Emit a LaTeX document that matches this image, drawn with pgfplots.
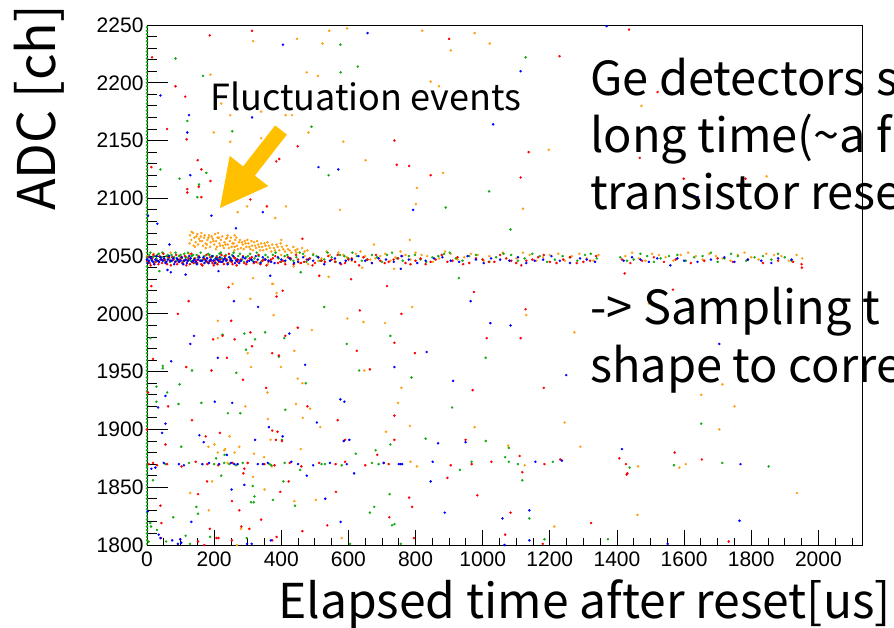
\documentclass[border=0pt]{standalone}
\usepackage{fontspec}
\usepackage{pgfplots}
\pgfplotsset{compat=1.18}
\setmainfont{Noto Sans CJK JP}
\newfontfamily\tickfont{Liberation Sans}
\definecolor{rred}{RGB}{255,0,0}
\definecolor{rblue}{RGB}{0,0,255}
\definecolor{rgreen}{RGB}{20,170,20}
\definecolor{rorange}{RGB}{255,160,20}
\definecolor{arrowgold}{RGB}{255,192,0}
\begin{document}
\begin{tikzpicture}[x=1pt,y=1pt]
\useasboundingbox (0,0) rectangle (894,628);
\clip (0,0) rectangle (894,628);
\begin{axis}[
 at={(147pt,83pt)}, anchor=south west,
 scale only axis, width=715pt, height=520pt,
 xmin=0, xmax=2130, ymin=1800, ymax=2250,
 clip=false,
 axis line style={line width=0.8pt},
 tick align=inside,
 xtick pos=bottom, ytick pos=left,
 xtick={0,200,...,2000},
 minor xtick={50,100,...,2100},
 ytick={1800,1850,...,2250},
 minor ytick={1800,1810,...,2250},
 xtick style={/pgfplots/major tick length=15pt,/pgfplots/minor tick length=7pt, line width=0.8pt, black},
 ytick style={/pgfplots/major tick length=21pt,/pgfplots/minor tick length=10pt, line width=0.8pt, black},
 tick label style={font=\tickfont\fontsize{21}{21}\selectfont},
 /pgf/number format/assume math mode=true,
 /pgf/number format/set thousands separator={},
 xticklabel style={yshift=-3pt},
 xlabel={Elapsed time after reset[us]},
 xlabel style={font=\fontsize{48}{48}\selectfont, at={(axis description cs:1.0406,-0.1404)}, anchor=base east, inner sep=0pt},
 ylabel={ADC [ch]},
 ylabel style={font=\fontsize{52}{52}\selectfont, at={(axis description cs:-0.1273,0.8404)}, anchor=base, inner sep=0pt},
 every axis plot/.append style={only marks, mark=*, mark size=1.05pt},
]
% green column at t=0
\addplot[color=rgreen] coordinates {
(0,1801)(0,1804)(0,1807)(0,1810)(0,1813)(0,1816)(0,1819)(0,1822)(0,1825)(0,1828)
(0,1831)(0,1834)(0,1837)(0,1840)(0,1843)(0,1846)(0,1849)(0,1852)(0,1855)(0,1858)
(0,1861)(0,1864)(0,1867)(0,1870)(0,1873)(0,1876)(0,1879)(0,1882)(0,1885)(0,1888)
(0,1891)(0,1894)(0,1897)(0,1900)(0,1903)(0,1906)(0,1909)(0,1912)(0,1915)(0,1918)
(0,1921)(0,1924)(0,1927)(0,1930)(0,1933)(0,1936)(0,1939)(0,1942)(0,1945)(0,1948)
(0,1951)(0,1954)(0,1957)(0,1960)(0,1963)(0,1966)(0,1969)(0,1972)(0,1975)(0,1978)
(0,1981)(0,1984)(0,1987)(0,1990)(0,1993)(0,1996)(0,1999)(0,2002)(0,2005)(0,2008)
(0,2011)(0,2014)(0,2017)(0,2020)(0,2023)(0,2026)(0,2029)(0,2032)(0,2035)(0,2038)
(0,2041)(0,2044)(0,2047)(0,2050)(0,2053)(0,2056)(0,2059)(0,2062)(0,2065)(0,2068)
(0,2071)(0,2074)(0,2077)(0,2080)(0,2083)(0,2086)(0,2089)(0,2092)(0,2095)(0,2098)
(0,2101)(0,2104)(0,2107)(0,2110)(0,2113)(0,2116)(0,2119)(0,2122)(0,2125)(0,2128)
(0,2131)(0,2134)(0,2137)(0,2140)(0,2143)(0,2146)(0,2149)(0,2152)(0,2155)(0,2158)
(0,2161)(0,2164)(0,2167)(0,2170)(0,2173)(0,2176)(0,2179)(0,2182)(0,2185)(0,2188)
(0,2191)(0,2194)(0,2197)(0,2200)(0,2203)(0,2206)(0,2209)(0,2212)(0,2215)(0,2218)
(0,2221)(0,2224)(0,2227)(0,2230)(0,2233)(0,2236)(0,2239)(0,2242)(0,2245)(0,2248)
};
% orange
\addplot[color=rorange] coordinates {
(0,2050)(20,2052)(45,2049)(70,2053)(95,2050)(125,2052)(400,2051)(420,2049)(445,2053)(470,2050)
(495,2052)(520,2048)(545,2051)(570,2053)(595,2049)(622,2052)(650,2050)(680,2048)(710,2052)(740,2049)
(770,2051)(800,2053)(835,2050)(870,2048)(905,2052)(945,2049)(985,2051)(1020,2050)(1060,2053)(1100,2048)
(1140,2051)(1180,2049)(1225,2052)(1265,2050)(1310,2048)(1345,2051)(1425,2050)(1465,2048)(1505,2052)(1545,2049)
(1590,2051)(1635,2050)(1675,2052)(1715,2048)(1760,2051)(1800,2049)(1845,2052)(1890,2050)(1935,2051)(1952,2048)
(510,2046)(535,2054)(560,2047)(585,2051)(610,2046)(636,2054)(665,2047)(695,2050)(725,2046)(755,2054)
(785,2047)(818,2051)(852,2045)(888,2054)(925,2047)(965,2052)(1003,2046)(1040,2049)(1080,2046)(1120,2053)
(1160,2046)(1200,2051)(1245,2046)(1288,2052)(1330,2046)(1445,2053)(1485,2046)(1525,2051)(1568,2046)(1612,2053)
(1655,2047)(1695,2050)(1738,2046)(1780,2053)(1822,2047)(1868,2051)(1912,2046)
(128,2068)(132,2064)(137,2070)(141,2066)(145,2062)(150,2069)(155,2065)(160,2067)(164,2063)(170,2066)
(175,2061)(180,2064)(185,2068)(190,2062)(196,2065)(200,2060)(206,2063)(210,2066)(216,2061)(220,2064)
(226,2059)(231,2062)(236,2065)(241,2060)(247,2063)(252,2058)(258,2061)(263,2064)(268,2059)(274,2062)
(280,2057)(285,2060)(291,2063)(296,2058)(302,2061)(308,2056)(313,2059)(319,2062)(325,2057)(331,2060)
(337,2055)(343,2058)(350,2061)(356,2056)(363,2059)(370,2054)(378,2057)(386,2060)(394,2055)(402,2058)
(411,2054)(420,2056)(430,2053)(442,2055)(455,2053)(470,2054)(143,2058)(175,2057)(205,2056)(260,2055)
(240,2068)(212,2070)(330,2044)(360,2043)(410,2045)(455,2044)(480,2043)
(127,2061)(133,2071)(139,2059)(147,2067)(152,2060)(158,2063)(162,2070)(167,2059)(172,2068)(178,2060)
(183,2066)(188,2058)(193,2067)(198,2063)(203,2069)(208,2058)(214,2066)(218,2059)(224,2067)(229,2057)
(234,2060)(239,2066)(244,2057)(250,2066)(255,2061)(261,2058)(266,2066)(271,2056)(277,2064)(283,2062)
(288,2056)(294,2061)(299,2064)(305,2058)(311,2063)(316,2055)(322,2059)(328,2063)(334,2058)(340,2061)
(346,2055)(353,2059)(359,2062)(366,2057)(373,2060)(381,2055)(389,2058)(398,2061)(406,2056)(416,2059)
(425,2055)(436,2058)(448,2056)(462,2057)(478,2055)
(316,2236)(447,2238)(523,2234)(543,2245)(596,2247)(189,2207)(476,2209)(509,2206)(221,2182)(248,2172)
(340,2175)(413,2172)(432,2172)(199,2157)(248,2149)(340,2152)(481,2157)(585,2149)(651,2133)(298,2093)
(414,2093)(575,2090)(270,2088)(382,2083)(261,2068)(400,2064)(676,2060)(541,2032)(255,2026)(375,2026)
(641,2040)(437,2041)(316,2031)(373,2026)
(820,2245)(976,2243)(905,2228)(1021,2234)(845,2201)(870,2197)(1197,2142)(882,2122)(804,2109)(801,2095)
(1120,2091)(783,2064)(736,2039)(1473,2180)(1846,2119)
(386,2018)(308,2013)(377,1999)(211,1994)(597,1996)(645,1993)(709,1992)(491,1986)(211,1979)(300,1966)
(439,1968)(310,1954)(399,1954)(647,1951)(449,1944)(463,1940)(359,1932)(293,1920)(444,1922)(486,1918)
(360,1909)(464,1910)(516,1902)(712,1898)(246,1894)(201,1887)(368,1891)(183,1885)(275,1885)(458,1883)
(211,1880)(230,1882)(233,1883)(261,1880)(319,1879)(349,1876)(240,1871)(300,1871)(372,1868)(316,1859)
(194,1855)(350,1848)(129,1845)(439,1838)(503,1839)(184,1830)(280,1814)(580,1806)(268,1800)
(790,2006)(1130,1999)(1273,1984)(758,1936)(748,1923)(1244,1906)(783,1903)(976,1902)(1076,1886)(1291,1885)
(785,1872)(804,1868)(1125,1869)(1213,1816)
(1495,2009)(1714,1939)(1651,1930)(1750,1920)(1705,1900)(1463,1868)(1586,1867)(1605,1870)(1936,1845)(1461,1826)
};
% green
\addplot[color=rgreen] coordinates {
(0,2049)(7,2051)(14,2047)(21,2050)(28,2048)(35,2052)(43,2049)(50,2047)(58,2050)(66,2048)
(73,2051)(81,2049)(88,2046)(96,2050)(103,2048)(111,2052)(118,2049)(126,2047)(133,2050)(141,2048)
(148,2051)(156,2049)(163,2046)(171,2050)(178,2048)(186,2051)(193,2049)(201,2047)(208,2050)(216,2052)
(223,2048)(231,2050)(238,2047)(246,2049)(254,2051)(262,2048)(272,2050)(283,2047)(295,2049)(307,2052)
(320,2048)(333,2050)(347,2047)(360,2049)(375,2051)(392,2048)(410,2050)(428,2047)(445,2049)(465,2052)
(485,2048)(505,2050)(528,2047)(550,2049)(575,2051)(600,2048)(625,2050)(655,2047)(685,2049)(715,2051)
(745,2048)(780,2050)(815,2047)(850,2049)(885,2052)(920,2048)(960,2050)(1000,2047)(1040,2049)(1085,2051)
(1125,2048)(1170,2050)(1215,2047)(1260,2049)(1305,2051)(1340,2048)(1410,2049)(1450,2047)(1490,2050)(1530,2048)
(1580,2051)(1630,2049)(1680,2053)(1720,2048)(1760,2050)(1810,2049)(1860,2047)(1900,2049)
(3,2046)(10,2053)(17,2049)(24,2045)(31,2051)(39,2047)(46,2053)(54,2046)(62,2051)(69,2045)
(77,2049)(85,2053)(92,2047)(100,2051)(107,2045)(115,2049)(122,2053)(130,2046)(137,2051)(145,2044)
(152,2049)(160,2053)(167,2047)(175,2045)(182,2052)(190,2046)(197,2050)(205,2044)(212,2048)(220,2053)
(227,2046)(235,2051)(242,2044)(250,2048)(258,2053)(267,2046)(277,2052)(289,2045)(301,2050)(314,2046)
(327,2053)(340,2045)(353,2051)(367,2046)(383,2053)(400,2045)(418,2051)(436,2046)(455,2053)(475,2045)
(495,2051)(516,2046)(538,2053)(562,2045)(588,2050)(612,2053)(640,2046)(670,2051)(700,2045)(730,2053)
(762,2046)(798,2051)(832,2045)(868,2050)(902,2053)(940,2046)(980,2051)(1020,2045)(1062,2052)(1105,2046)
(1148,2052)(1192,2045)(1238,2050)(1282,2046)(1322,2052)(1430,2046)(1470,2052)(1510,2045)(1555,2050)(1605,2046)
(1655,2050)(1700,2045)(1740,2052)(1785,2046)(1835,2050)(1880,2052)(1920,2046)
(576,2233)(85,2221)(167,2206)(577,2209)(628,2214)(120,2167)(254,2158)(490,2162)(40,2125)(177,2122)
(541,2120)(97,2117)(155,2112)(150,2101)(37,2037)(458,2036)
(1128,2222)(1019,2106)(890,2092)(1083,2073)(929,2031)
(528,2006)(290,1983)(352,1984)(225,1982)(10,1979)(322,1978)(409,1979)(595,1974)(295,1969)(393,1963)
(47,1955)(47,1953)(134,1951)(632,1951)(266,1949)(473,1940)(28,1937)(97,1939)(60,1932)(28,1924)
(94,1922)(162,1923)(241,1914)(278,1914)(412,1917)(402,1891)(102,1885)(681,1882)(622,1879)(231,1878)(206,1875)
(0,1869)(55,1870)(125,1871)(200,1870)(230,1871)(245,1870)(265,1869)(285,1871)(365,1870)(370,1869)
(410,1871)(520,1870)(530,1870)(580,1869)(670,1871)(690,1870)
(456,1865)(221,1860)(18,1856)(406,1855)(315,1851)(320,1842)(375,1839)(310,1837)(318,1837)(441,1834)
(147,1833)(677,1833)(152,1827)(664,1828)(78,1824)(10,1819)(12,1816)(30,1813)(115,1808)(188,1807)
(297,1806)(5,1803)(57,1803)(128,1801)(605,1801)
(725,1981)(1009,1962)(788,1945)(909,1919)(830,1892)(1009,1890)(725,1887)(1078,1884)(1067,1876)(967,1872)
(1078,1872)(1105,1870)(1209,1872)(932,1865)(1118,1856)(723,1844)(1139,1823)(730,1817)(737,1818)(1184,1805)
(1373,1805)(756,1801)
(1617,2001)(1651,1905)(1438,1867)(1570,1869)(1714,1871)(1852,1868)
};
% red
\addplot[color=rred] coordinates {
(0,2046)(8,2044)(15,2048)(22,2043)(30,2046)(38,2050)(45,2044)(52,2047)(60,2043)(68,2046)
(75,2049)(83,2045)(90,2043)(98,2047)(105,2044)(113,2050)(120,2046)(128,2043)(135,2045)(143,2048)
(150,2044)(158,2046)(165,2042)(173,2047)(180,2045)(188,2049)(195,2044)(203,2046)(210,2043)(218,2047)
(225,2045)(233,2050)(240,2044)(248,2046)(255,2043)(263,2048)(270,2045)(280,2047)(290,2044)(300,2046)
(312,2049)(325,2045)(338,2043)(350,2047)(362,2045)(375,2048)(390,2044)(405,2046)(420,2049)(437,2043)
(450,2047)(468,2045)(485,2048)(500,2044)(520,2046)(540,2050)(560,2045)(578,2043)(600,2047)(620,2045)
(645,2049)(670,2044)(695,2046)(720,2045)(748,2048)(770,2044)(800,2046)(830,2043)(860,2047)(895,2045)
(925,2049)(960,2044)(1000,2047)(1035,2045)(1070,2048)(1100,2044)(1130,2046)(1165,2049)(1200,2045)(1240,2047)
(1280,2044)(1320,2046)(1415,2047)(1440,2044)(1475,2046)(1510,2049)(1540,2045)(1575,2047)(1620,2044)(1660,2046)
(1700,2048)(1745,2045)(1790,2047)(1835,2044)(1880,2046)(1925,2045)(1950,2043)
(4,2049)(11,2042)(19,2051)(26,2045)(34,2043)(41,2047)(49,2052)(56,2045)(64,2049)(71,2042)
(79,2047)(87,2051)(94,2045)(102,2049)(109,2046)(117,2042)(124,2048)(132,2052)(139,2044)(147,2046)
(154,2050)(162,2043)(169,2048)(177,2051)(184,2044)(192,2046)(199,2042)(207,2049)(214,2045)(222,2051)
(229,2043)(237,2047)(244,2052)(252,2045)(259,2049)(267,2042)(276,2046)(286,2050)(296,2043)(306,2048)
(318,2044)(332,2051)(344,2046)(356,2042)(369,2047)(382,2050)(397,2045)(412,2043)(428,2048)(444,2051)
(459,2044)(476,2047)(493,2042)(510,2049)(530,2045)(550,2047)(568,2051)(590,2044)(610,2048)(632,2042)
(657,2047)(682,2051)(708,2044)(735,2047)(760,2050)(785,2043)(815,2048)(845,2045)(878,2051)(910,2046)
(942,2043)(980,2048)(1018,2045)(1052,2051)(1085,2046)(1115,2042)(1148,2047)(1182,2051)(1220,2044)(1260,2049)
(1300,2045)(1338,2050)
(187,2241)(313,2245)(15,2222)(85,2197)(114,2188)(60,2160)(118,2151)(449,2145)(151,2133)(385,2132)
(394,2134)(13,2127)(162,2125)(189,2115)(154,2110)(120,2108)(120,2105)(162,2101)(308,2099)(357,2093)
(463,2065)(513,2033)(608,2030)
(900,2238)(1229,2223)(737,2150)(1137,2140)(744,2129)(781,2128)(845,2120)(1113,2118)(1423,2035)
(1521,2192)(1591,2201)(1468,2135)(1599,2117)(1783,2117)(1436,2246)(1951,2040)
(13,2024)(243,2023)(404,2020)(386,2015)(715,2024)(124,2011)(634,2003)(92,2000)(251,1994)(449,1988)
(225,1981)(308,1984)(412,1981)(197,1978)(261,1978)(313,1972)(373,1966)(625,1968)(18,1961)(238,1962)
(393,1964)(117,1954)(192,1951)(664,1952)(286,1943)(355,1936)(3,1932)(63,1920)(478,1920)(134,1908)
(568,1908)(0,1900)(373,1899)(389,1898)(217,1897)(175,1894)(384,1891)(402,1890)(590,1891)(55,1887)(686,1878)
(5,1870)(18,1871)(30,1869)(60,1870)(103,1868)(145,1872)(180,1870)(212,1869)(255,1871)(290,1866)
(300,1871)(350,1870)(380,1869)(425,1871)(460,1868)(513,1871)(562,1870)(590,1872)(650,1869)(705,1871)
(287,1862)(179,1855)(422,1855)(152,1844)(397,1846)(563,1846)(253,1838)(40,1834)(275,1830)(340,1822)
(43,1819)(537,1817)(281,1816)(187,1814)(305,1814)(463,1812)(42,1806)(207,1806)(213,1806)(253,1804)
(386,1807)(373,1804)(152,1803)(171,1800)
(974,2019)(758,2000)(1128,2004)(1012,1979)(1113,1979)(737,1975)(798,1966)(1182,1936)(970,1934)(737,1912)
(737,1891)(949,1891)(1110,1877)(1231,1874)(1407,1875)(720,1870)(905,1869)(967,1870)(1026,1872)(1184,1870)
(1427,1870)(1118,1863)(895,1858)(1429,1861)(781,1841)(984,1843)(790,1833)(1083,1828)(722,1824)(1323,1819)
(1067,1809)(795,1806)(1179,1801)
(1567,2021)(1572,1880)(1653,1874)(1431,1862)(1733,1803)
};
% blue
\addplot[color=rblue] coordinates {
(0,2047)(6,2046)(12,2048)(18,2045)(25,2047)(32,2046)(40,2049)(47,2046)(55,2044)(62,2047)
(70,2046)(78,2048)(85,2045)(92,2047)(100,2046)(108,2043)(115,2047)(122,2046)(130,2048)(138,2046)
(145,2045)(152,2047)(160,2046)(168,2049)(175,2046)(183,2044)(190,2047)(198,2046)(205,2048)(213,2046)
(220,2045)(228,2047)(236,2046)(245,2049)(253,2046)(262,2044)(270,2047)(280,2046)(292,2048)(305,2046)
(318,2045)(330,2047)(345,2049)(362,2046)(380,2044)(400,2047)(425,2048)(450,2045)(480,2047)(510,2049)
(545,2046)(575,2044)(610,2047)(650,2046)(690,2048)(735,2045)(780,2047)(830,2046)(880,2049)(930,2045)
(980,2047)(1025,2048)(1080,2046)(1130,2044)(1180,2047)(1230,2046)(1290,2048)(1335,2045)(1420,2046)(1470,2047)
(1520,2048)(1559,2042)(1600,2046)(1680,2047)(1750,2045)(1830,2046)(1880,2048)
(3,2044)(9,2049)(15,2046)(21,2043)(28,2050)(36,2045)(43,2047)(51,2048)(58,2045)(66,2050)
(74,2046)(81,2043)(89,2048)(96,2045)(104,2049)(111,2046)(119,2044)(126,2050)(134,2045)(141,2047)
(149,2043)(156,2049)(164,2046)(171,2044)(179,2048)(187,2046)(194,2050)(202,2044)(209,2047)(217,2049)
(224,2045)(232,2048)(240,2043)(249,2047)(257,2050)(266,2046)(275,2044)(286,2049)(298,2045)(311,2047)
(324,2050)(338,2044)(353,2047)(370,2045)(390,2049)(412,2046)(438,2044)(465,2049)(495,2046)(528,2043)
(560,2048)(592,2046)(630,2050)(670,2044)(712,2047)(758,2050)(805,2044)(855,2048)(905,2046)(955,2050)
(1003,2044)(1052,2047)(1105,2049)(1155,2046)(1205,2050)(1260,2044)(1310,2047)(1445,2049)(1495,2045)(1580,2048)
(1640,2045)(1720,2049)(1790,2047)(1860,2044)(1920,2047)
(405,2233)(657,2243)(40,2189)(125,2172)(313,2170)(120,2157)(129,2120)(511,2127)(570,2125)(345,2088)
(192,2085)(3,2085)(31,2078)(265,2074)(67,2060)(115,2034)(61,2038)(71,2036)(213,2037)(367,2033)
(1369,2249)(1113,2210)(1031,2164)(793,2090)(756,2039)(1641,2101)
(259,2011)(331,2006)(140,1981)(424,1983)(129,1974)(211,1962)(72,1959)(471,1956)(55,1929)(33,1919)
(202,1924)(254,1923)(576,1926)(588,1924)(506,1906)(55,1905)(45,1897)(363,1902)(156,1895)(404,1894)
(169,1889)(322,1891)(603,1891)(586,1890)(238,1878)
(13,1866)(25,1867)(50,1871)(95,1870)(110,1869)(165,1870)(185,1871)(215,1870)(250,1871)(260,1870)
(270,1870)(330,1870)(345,1870)(360,1871)(430,1872)(450,1870)(495,1869)(545,1871)(595,1870)(705,1871)
(476,1860)(617,1862)(290,1852)(252,1848)(531,1840)(2,1829)(132,1820)(577,1820)(35,1809)(40,1806)
(75,1804)(99,1805)(102,1802)(369,1804)(312,1801)(92,1801)(298,1801)
(964,2011)(1023,1992)(1083,1990)(833,1967)(737,1954)(1249,1947)(912,1942)(949,1889)(867,1888)(1415,1883)
(1236,1873)(750,1870)(755,1870)(760,1870)(851,1872)(1157,1872)(845,1855)(1139,1830)(887,1828)(1059,1823)
(1139,1804)(1065,1800)
(1705,1974)(1768,1870)(1765,1821)(1551,1801)
};
\end{axis}
% annotation arrow
\fill[arrowgold] (286.9,493.4) -- (254.9,452.4) -- (268.3,441.9) -- (220,420) -- (229.7,472.1) -- (243.1,461.6) -- (275.1,502.6) -- cycle;
\node[anchor=base west, inner sep=0pt, font=\fontsize{36}{36}\selectfont] at (210,517) {Fluctuation events};
\node[anchor=base west, inner sep=0pt, font=\fontsize{47}{47}\selectfont] at (590,532) {Ge detectors s};
\node[anchor=base west, inner sep=0pt, font=\fontsize{47}{47}\selectfont] at (590,475) {long time(\textasciitilde a f};
\node[anchor=base west, inner sep=0pt, font=\fontsize{47}{47}\selectfont] at (590,418) {transistor rese};
\node[anchor=base west, inner sep=0pt, font=\fontsize{47}{47}\selectfont] at (590,303) {-{}> Sampling t};
\node[anchor=base west, inner sep=0pt, font=\fontsize{47}{47}\selectfont] at (590,245) {shape to corre};
\end{tikzpicture}
\end{document}
